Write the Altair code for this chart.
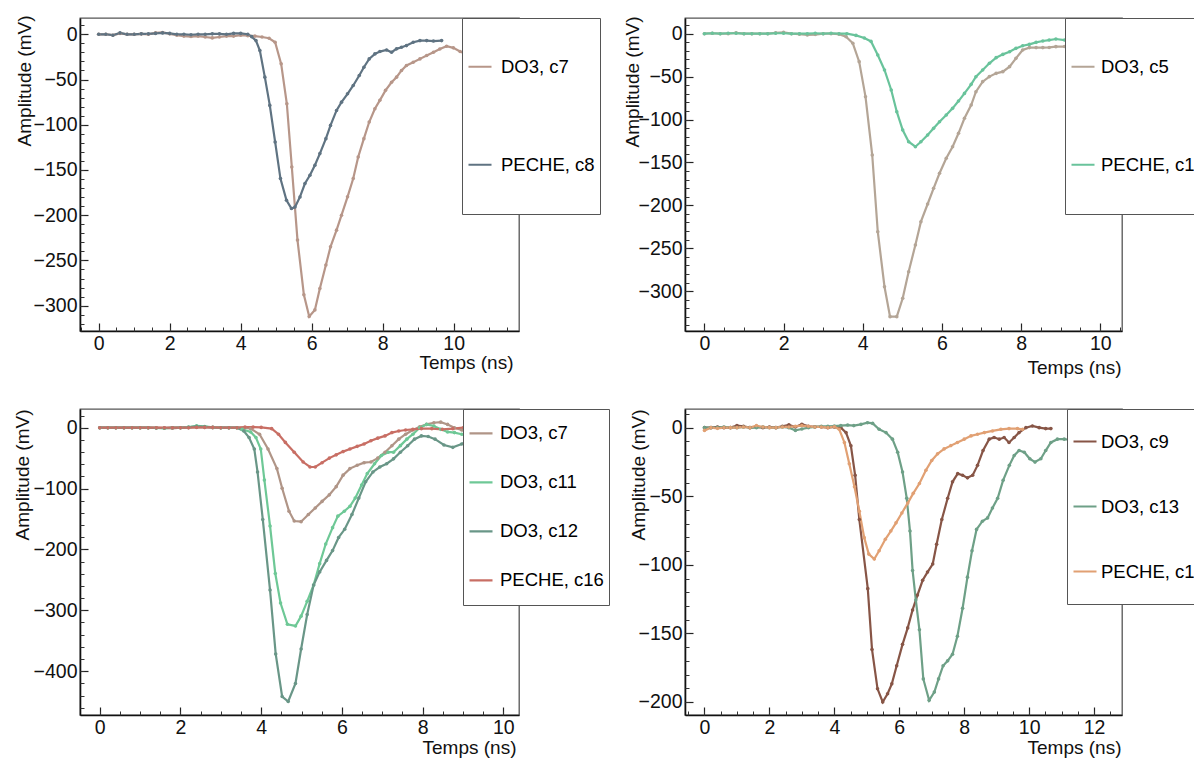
import math
import altair as alt
import pandas as pd

FONT = "Liberation Sans"

# ---------------- Panel 1 (top-left) ----------------
p1_names = ["DO3, c7", "PECHE, c8"]
p1_colors = ["#b79689", "#5f7382"]
p1_c7_t = [0.0, 0.2, 0.4, 0.6, 0.8, 1.0, 1.2, 1.4, 1.6, 1.8, 2.0, 2.2, 2.4, 2.6, 2.8, 3.0, 3.2, 3.4, 3.6, 3.8,
           4.0, 4.2, 4.4, 4.6, 4.8, 4.97, 5.14, 5.30, 5.44, 5.60, 5.78, 5.93, 6.09, 6.23, 6.40, 6.53, 6.70, 6.84,
           7.01, 7.17, 7.31, 7.47, 7.62, 7.78, 7.92, 8.08, 8.25, 8.39, 8.53, 8.67, 8.86, 9.05, 9.24, 9.43, 9.61,
           9.80, 9.99, 10.18, 10.36]
p1_c7_v = [0, 0, -1, 1, 0, 0, 0.5, 0, 1.5, 2, 0.5, -1, -2, -2.5, -2, -3, -4, -3, -2, -2,
           -1, -1.5, -2, -3, -4.4, -8.8, -32.7, -76.8, -146.7, -227.5, -288, -312, -304.7, -281, -255, -235,
           -216.5, -200, -179.7, -159.5, -135.6, -115.4, -97, -82.3, -73, -62, -53, -47.4, -40, -34.5, -30.9,
           -27.2, -23.5, -19.8, -16.2, -13.2, -15, -19, -22]
p1_c8_t = [0.0, 0.2, 0.4, 0.6, 0.8, 1.0, 1.2, 1.4, 1.6, 1.8, 2.0, 2.2, 2.4, 2.6, 2.8, 3.0, 3.2, 3.4, 3.6, 3.8,
           4.0, 4.2, 4.31, 4.43, 4.54, 4.68, 4.82, 4.97, 5.12, 5.29, 5.43, 5.53, 5.67, 5.81, 5.95, 6.09, 6.23,
           6.40, 6.53, 6.70, 6.84, 7.01, 7.17, 7.34, 7.47, 7.62, 7.78, 7.92, 8.11, 8.25, 8.39, 8.53, 8.67, 8.86,
           9.05, 9.24, 9.43, 9.66]
p1_c8_v = [0, 0, -1, 1.5, 0, 0, 0.5, 0.5, 1, 1.5, 1, 0, 0, -0.5, 0, 0, 0.5, 0.5, 0, 1,
           1, 0, -2.6, -7, -18, -47.4, -78.6, -119, -159.5, -183.4, -192.6, -191, -179.8, -165, -155.9, -144.8,
           -131.9, -115.4, -100.7, -84.2, -75, -65.8, -56.6, -45.6, -36.4, -27.2, -21.7, -19.1, -17.3, -19.8,
           -16.1, -14.3, -12.5, -8.8, -7, -7, -7.5, -7]

# ---------------- Panel 2 (top-right) ----------------
p2_names = ["DO3, c5", "PECHE, c1\u00a0\u00a0\u00a0"]
p2_colors = ["#b4a596", "#69c39b"]
p2_c5_t = [0.0, 0.2, 0.4, 0.6, 0.8, 1.0, 1.2, 1.4, 1.6, 1.8, 2.0, 2.2, 2.4, 2.6, 2.8, 3.0, 3.2, 3.4,
           3.58, 3.75, 3.91, 4.07, 4.24, 4.38, 4.55, 4.69, 4.86, 5.01, 5.16, 5.33, 5.47, 5.64, 5.79, 5.94, 6.11,
           6.27, 6.42, 6.57, 6.74, 6.86, 7.03, 7.20, 7.37, 7.54, 7.71, 7.87, 8.04, 8.21, 8.38, 8.55, 8.71, 8.88,
           9.10, 9.30]
p2_c5_v = [0, 0.5, 0, 0, 1, 0, 0, 0, 0, 1, 1.5, 0, -0.5, -1.5, -1, 0, 0, -0.5,
           -3.5, -11.2, -32.6, -73.4, -141.4, -230.8, -294.9, -329.8, -329.8, -308.4, -277.4, -246.3, -219.1,
           -198.5, -180.2, -162.7, -145.2, -131.7, -116.1, -98.6, -83.1, -67.6, -55.9, -50, -46.2, -44.2, -38.4,
           -28.7, -19, -16.2, -16.2, -16.2, -16, -15.1, -15, -15]
p2_c1_t = [0.0, 0.2, 0.4, 0.6, 0.8, 1.0, 1.2, 1.4, 1.6, 1.8, 2.0, 2.2, 2.4, 2.6, 2.8, 3.0, 3.2, 3.4, 3.6,
           3.83, 4.04, 4.21, 4.38, 4.55, 4.72, 4.86, 5.01, 5.16, 5.33, 5.47, 5.64, 5.79, 5.94, 6.11, 6.27, 6.42,
           6.57, 6.74, 6.86, 7.03, 7.20, 7.37, 7.54, 7.71, 7.87, 8.04, 8.21, 8.38, 8.55, 8.71, 8.88, 9.10, 9.30]
p2_c1_v = [0, 0.5, 0, 0.5, 0.5, 0, 0, 0, 0, 0.5, 0.5, 0, 0, 0, 0.5, 0, 0.5, 0, 0,
           -2, -5, -9, -24.8, -42.3, -65.6, -90.9, -112.3, -125.9, -131.7, -125.9, -118.1, -110.3, -102.6, -94.8,
           -87, -78.5, -69.6, -59, -50.1, -42.3, -34.5, -27.9, -24.1, -21, -17.1, -14, -12.4, -10.1, -8.5, -7.4,
           -6.2, -7.4, -8]

# ---------------- Panel 3 (bottom-left) ----------------
p3_names = ["DO3, c7", "DO3, c11", "DO3, c12", "PECHE, c16"]
p3_colors = ["#b09587", "#6ec896", "#699687", "#c86e64"]
p3_c7_t = [0.0, 0.2, 0.4, 0.6, 0.8, 1.0, 1.2, 1.4, 1.6, 1.8, 2.0, 2.2, 2.4, 2.6, 2.8, 3.0, 3.2, 3.4, 3.6,
           3.74, 3.96, 4.17, 4.39, 4.52, 4.69, 4.82, 4.99, 5.17, 5.34, 5.51, 5.69, 5.86, 6.03, 6.20, 6.38, 6.55,
           6.72, 6.89, 7.07, 7.24, 7.41, 7.58, 7.76, 7.93, 8.10, 8.28, 8.45, 8.62, 8.79, 8.97, 9.14, 9.31, 9.50]
p3_c7_v = [0, 0, 0, 0, 0, 0, 0, 0, -0.5, -1, 0, 0, 1, 0.5, 0, 0, 0, 0, 0,
           -1.6, -10.7, -34.9, -67.2, -99.5, -137.2, -153.3, -154.4, -142.6, -131.9, -121.1, -110.3, -96.9, -78,
           -67.2, -61.8, -57.5, -56.4, -50, -40.3, -29.6, -18.8, -10.7, -3.8, 1.6, 5.4, 8.1, 9.1, 5.4, 0, -3.8,
           -8.1, -10.7, -12]
p3_c11_t = [0.0, 0.2, 0.4, 0.6, 0.8, 1.0, 1.2, 1.4, 1.6, 1.8, 2.0, 2.2, 2.4, 2.6, 2.8, 3.0, 3.2, 3.4,
            3.53, 3.74, 3.87, 3.99, 4.08, 4.22, 4.35, 4.48, 4.65, 4.85, 4.99, 5.14, 5.30, 5.45, 5.60, 5.77, 5.90,
            6.06, 6.20, 6.33, 6.49, 6.63, 6.81, 6.98, 7.15, 7.28, 7.45, 7.61, 7.76, 7.93, 8.10, 8.28, 8.45, 8.62,
            8.79, 8.97, 9.14, 9.31, 9.53]
p3_c11_v = [0, 0, 0, 0, 0, 0, 0, -0.5, -1, 0, 0, 1, 3, 2, 0.5, 0, 0, 0,
            -2.7, -7, -16.1, -35, -86.1, -161.5, -239.5, -288, -323, -325.7, -309.6, -285.3, -258.4, -223.4,
            -191.1, -164.2, -145.3, -137.3, -129.2, -115.7, -94.2, -75.3, -59.2, -45.7, -40.3, -40.3, -29.5,
            -18.8, -10.7, 0, 5.4, 2.7, -2.7, -7, -8.1, -10.7, -13.5, -14.5, -16]
p3_c12_t = [0.0, 0.2, 0.4, 0.6, 0.8, 1.0, 1.2, 1.4, 1.6, 1.8, 2.0, 2.2, 2.4, 2.6, 2.8, 3.0, 3.2, 3.4,
            3.57, 3.70, 3.83, 3.91, 4.04, 4.22, 4.36, 4.52, 4.67, 4.85, 4.99, 5.14, 5.30, 5.45, 5.62, 5.77, 5.92,
            6.07, 6.25, 6.42, 6.59, 6.77, 6.94, 7.11, 7.28, 7.45, 7.63, 7.80, 7.97, 8.14, 8.31, 8.53, 8.75, 8.97,
            9.18, 9.35, 9.57]
p3_c12_v = [0, 0, 0, 0, 0, 0, 0, -0.5, -0.5, 0, 0, 0.5, 2, 1.5, 0.5, 0, 0, 0,
            -5.4, -16.1, -35, -72.7, -150.8, -266.7, -371.7, -441.7, -449.8, -420.2, -363.6, -307, -258.4,
            -236.9, -218, -201.9, -180.3, -166.9, -142.6, -115.7, -88.8, -72.7, -64.6, -59.2, -51.2, -40.3,
            -29.6, -18.8, -13.5, -14.5, -18.8, -28.5, -32.3, -26.9, -19.9, -16.1, -14.5]
p3_c16_t = [0.0, 0.2, 0.4, 0.6, 0.8, 1.0, 1.2, 1.4, 1.6, 1.8, 2.0, 2.2, 2.4, 2.6, 2.8, 3.0, 3.2, 3.4, 3.6, 3.8,
            4.0, 4.26, 4.43, 4.60, 4.82, 5.04, 5.21, 5.34, 5.51, 5.69, 5.86, 6.03, 6.20, 6.38, 6.55, 6.72, 6.89,
            7.07, 7.24, 7.41, 7.58, 7.76, 7.97, 8.23, 8.49, 8.75, 9.01, 9.27, 9.53]
p3_c16_v = [0, 0, 0, 0, 0, 0, 0, 0, 0, 0, 0, 0, 0.5, 0.5, 0.5, 0, 0, 0, 1, 1,
            0.5, -1.6, -10.7, -24.2, -40.3, -56.4, -64.6, -64.6, -57.5, -50, -44.6, -39.3, -35, -30.7, -26.9,
            -21.5, -17.2, -13.5, -8.1, -5.4, -3.8, -2.7, -1.6, -1.6, -2.7, -1.6, 0, 1.1, 1.6]

# ---------------- Panel 4 (bottom-right) ----------------
p4_names = ["DO3, c9", "DO3, c13", "PECHE, c15"]
p4_colors = ["#875546", "#6ea087", "#e1a073"]
p4_c9_t = [0.0, 0.2, 0.4, 0.6, 0.8, 1.0, 1.2, 1.4, 1.6, 1.8, 2.0, 2.2, 2.4, 2.6, 2.8, 3.0, 3.2, 3.4, 3.6, 3.8,
           4.0, 4.2, 4.36, 4.51, 4.64, 4.77, 5.03, 5.16, 5.33, 5.49, 5.64, 5.77, 5.92, 6.10, 6.26, 6.41, 6.56,
           6.72, 6.87, 7.03, 7.15, 7.31, 7.49, 7.64, 7.80, 7.95, 8.10, 8.26, 8.41, 8.58, 8.77, 8.92, 9.08, 9.23,
           9.38, 9.54, 9.69, 9.90, 10.10, 10.31, 10.51, 10.67]
p4_c9_v = [0, 0, 0.5, 0, 0, 1.5, 1, 0, 0.5, 0, 0.5, 0, 1, 2, 0.5, 2.5, 1, 0.5, 0.5, 0,
           0.5, 0, -3.6, -13.2, -34.7, -67, -117.4, -161.7, -190.4, -200, -194, -186.8, -173.6, -158, -146,
           -132.9, -122.1, -111.3, -105.3, -99.4, -85, -67, -51.5, -39.5, -33.5, -34.7, -36.6, -34.7, -27.5,
           -16.7, -8.4, -7.2, -8.4, -7.2, -10.8, -7.2, -3.6, 0, 1.2, 0, -0.7, -0.7]
p4_c13_t = [0.0, 0.2, 0.4, 0.6, 0.8, 1.0, 1.2, 1.4, 1.6, 1.8, 2.0, 2.2, 2.4, 2.6, 2.8, 3.0, 3.2, 3.4, 3.6, 3.8,
            4.0, 4.2, 4.41, 4.6, 4.82, 5.02, 5.18, 5.38, 5.59, 5.79, 5.95, 6.10, 6.23, 6.33, 6.41, 6.51, 6.62,
            6.74, 6.92, 7.08, 7.21, 7.35, 7.49, 7.64, 7.79, 7.95, 8.10, 8.24, 8.38, 8.56, 8.72, 8.87, 9.03, 9.20,
            9.39, 9.54, 9.69, 9.85, 10.02, 10.18, 10.36, 10.51, 10.67, 10.87, 11.08, 11.30]
p4_c13_v = [0, 0, 0, 0.5, 0, 0, 0.5, 0, 0, 0.5, 0, 0, 0.5, 0, -2, -1, 0, 0.5, 1, 1,
            1.2, 1.5, 1.9, 1.5, 2.4, 3.6, 3.1, -1.2, -3.6, -8.4, -17.9, -32.3, -51.5, -75.4, -104.1, -125.7,
            -147.3, -183.2, -198.8, -192.8, -183.2, -173.6, -170, -165.2, -152.1, -131.7, -109, -89.8, -74.2,
            -68.2, -65.8, -58.6, -51.5, -38.3, -27.5, -20.3, -16.7, -17.9, -22.7, -25.1, -22.7, -16.7, -10.8,
            -8.4, -8.4, -9]
p4_c15_t = [0.0, 0.2, 0.4, 0.6, 0.8, 1.0, 1.2, 1.4, 1.6, 1.8, 2.0, 2.2, 2.4, 2.6, 2.8, 3.0, 3.2, 3.4, 3.6, 3.8,
            4.0, 4.15, 4.31, 4.46, 4.62, 4.77, 4.92, 5.06, 5.23, 5.38, 5.57, 5.74, 5.90, 6.08, 6.26, 6.43, 6.62,
            6.82, 7.00, 7.18, 7.38, 7.59, 7.79, 8.00, 8.21, 8.41, 8.62, 8.87, 9.13, 9.38, 9.64, 9.80]
p4_c15_v = [-2, 0, -0.5, 0, 0, 0, 0.5, 0, 1.5, 0.5, 0, 0, 0.5, 0.5, 1, 1.5, 1, 0.5, 0.5, 0,
            0.7, -1.2, -10.8, -26.3, -43.1, -61, -80.2, -92.2, -95.8, -89.8, -81.4, -75.4, -69.4, -62.2, -55,
            -47.9, -40.7, -31.1, -23.9, -19.1, -15.5, -13.1, -10.8, -8.4, -6, -4.8, -3.6, -2.4, -1.2, -0.7,
            -0.7, -1.2]

# axis tick labels
x_major = [0, 2, 4, 6, 8, 10, 12]
y_major_50 = [-350, -300, -250, -200, -150, -100, -50, 0]
y_major_100 = [-400, -300, -200, -100, 0]


def tick_values(lo, hi, step):
    return [round(k * step, 6) for k in range(int(math.ceil(lo / step)), int(math.floor(hi / step)) + 1)]


def panel(series, names, colors, xdom, ydom, ymajor, yminor_step, w, h, leg, ytitle_x, ytitle_y,
          xtitle_y, xtitle_right):
    rows = []
    for name, ts, vs in series:
        assert len(ts) == len(vs), name
        for a, b in zip(ts, vs):
            rows.append({"t": a, "v": b, "s": name})
    df = pd.DataFrame(rows)
    xs = alt.Scale(domain=xdom, nice=False, zero=False)
    ys = alt.Scale(domain=ydom, nice=False, zero=False)
    xmaj = [v for v in x_major if xdom[0] <= v <= xdom[1]]
    ymaj = [v for v in ymajor if ydom[0] <= v <= ydom[1]]
    xmin = tick_values(xdom[0], xdom[1], 0.5)
    ymin = tick_values(ydom[0], ydom[1], yminor_step)

    legend = alt.Legend(
        title=None, orient="none", legendX=leg["x"], legendY=0, direction="vertical",
        fillColor="white", strokeColor="#555555", padding=5,
        symbolType="stroke", symbolSize=529, symbolStrokeWidth=2.2, symbolOpacity=1,
        labelFont=FONT, labelFontSize=18.5, labelColor="#000000", labelOffset=leg["lo"],
        labelLimit=300, clipHeight=leg["ch"], rowPadding=10,
    )
    color = alt.Color("s:N", scale=alt.Scale(domain=names, range=colors), sort=names, legend=legend)

    base = alt.Chart(df)
    lines = base.mark_line(strokeWidth=2.2, point=alt.OverlayMarkDef(filled=True, size=13, opacity=1)).encode(
        x=alt.X("t:Q", scale=xs, axis=alt.Axis(
            orient="bottom", values=xmaj, format="d", ticks=False, domain=True, domainColor="#111111",
            domainWidth=1.6, labelFont=FONT, labelFontSize=19.5, labelColor="#111111", labelPadding=3,
            labelFlush=False, labelOverlap=False, grid=False,
            title="Temps (ns)", titleFont=FONT, titleFontSize=19, titleFontWeight="normal",
            titleColor="#111111", titleAlign="right", titleAnchor="end", titleBaseline="alphabetic",
            titleX=w - xtitle_right, titleY=xtitle_y)),
        y=alt.Y("v:Q", scale=ys, axis=alt.Axis(
            orient="left", values=ymaj, format="d", ticks=False, domain=True, domainColor="#111111",
            domainWidth=1.6, labelFont=FONT, labelFontSize=19.5, labelColor="#111111", labelPadding=3,
            labelFlush=False, labelOverlap=False, grid=False,
            title="Amplitude (mV)", titleFont=FONT, titleFontSize=19, titleFontWeight="normal",
            titleColor="#111111", titleAngle=270, titleAlign="right", titleAnchor="end",
            titleBaseline="alphabetic", titleX=ytitle_x, titleY=ytitle_y)),
        color=color,
    )
    major = base.mark_point(opacity=0).encode(
        x=alt.X("t:Q", scale=xs, axis=alt.Axis(
            orient="bottom", values=xmaj, labels=False, domain=False, grid=False, ticks=True,
            tickSize=8, tickWidth=1.2, tickColor="#222222", offset=-8, title=None)),
        y=alt.Y("v:Q", scale=ys, axis=alt.Axis(
            orient="left", values=ymaj, labels=False, domain=False, grid=False, ticks=True,
            tickSize=8, tickWidth=1.2, tickColor="#222222", offset=-8, title=None)),
    )
    minor = base.mark_point(opacity=0).encode(
        x=alt.X("t:Q", scale=xs, axis=alt.Axis(
            orient="bottom", values=xmin, labels=False, domain=False, grid=False, ticks=True,
            tickSize=4, tickWidth=1, tickColor="#333333", offset=-4, title=None)),
        y=alt.Y("v:Q", scale=ys, axis=alt.Axis(
            orient="left", values=ymin, labels=False, domain=False, grid=False, ticks=True,
            tickSize=4, tickWidth=1, tickColor="#333333", offset=-4, title=None)),
    )
    return alt.layer(lines, major, minor).resolve_axis(x="independent", y="independent").properties(
        width=w, height=h)


p1 = panel([(p1_names[0], p1_c7_t, p1_c7_v), (p1_names[1], p1_c8_t, p1_c8_v)], p1_names, p1_colors,
           [-0.527, 11.84], [-328, 18], y_major_50, 10, 439, 313,
           {"x": 382, "lo": 8, "ch": 87.5}, -50, -3, 37, 6)
p2 = panel([(p2_names[0], p2_c5_t, p2_c5_v), (p2_names[1], p2_c1_t, p2_c1_v)], p2_names, p2_colors,
           [-0.49, 10.55], [-346.5, 18.3], y_major_50, 10, 437, 313,
           {"x": 380, "lo": 5, "ch": 87.5}, -47, -2, 42, 1)
p3 = panel([(p3_names[0], p3_c7_t, p3_c7_v), (p3_names[1], p3_c11_t, p3_c11_v),
            (p3_names[2], p3_c12_t, p3_c12_v), (p3_names[3], p3_c16_t, p3_c16_v)], p3_names, p3_colors,
           [-0.49, 10.39], [-472, 30.7], y_major_100, 20, 439, 306,
           {"x": 383, "lo": 6, "ch": 38.75}, -52, 0, 38, 3)
p4 = panel([(p4_names[0], p4_c9_t, p4_c9_v), (p4_names[1], p4_c13_t, p4_c13_v),
            (p4_names[2], p4_c15_t, p4_c15_v)], p4_names, p4_colors,
           [-0.6, 12.86], [-209.5, 13.6], y_major_50, 10, 437, 306,
           {"x": 382, "lo": 3, "ch": 55}, -41, 0, 38, 1)

PAD_L, PAD_T = 72, 10
SVG_W, SVG_H = 1186, 750

chart = alt.concat(p1, p2, p3, p4, columns=2, spacing={"row": 78, "column": 166}, bounds="flush").resolve_scale(
    color="independent").resolve_legend(color="independent").properties(
    padding={"left": PAD_L, "top": PAD_T, "right": 0, "bottom": 0}, background="white",
    autosize=alt.AutoSizeParams(type="none"),
    params=[alt.VariableParameter(name="width", value=SVG_W - PAD_L),
            alt.VariableParameter(name="height", value=SVG_H - PAD_T)]).configure(
    font=FONT).configure_view(stroke="#555555", strokeWidth=1.3)

chart.save("out.html", embed_options={"renderer": "svg", "actions": False})
